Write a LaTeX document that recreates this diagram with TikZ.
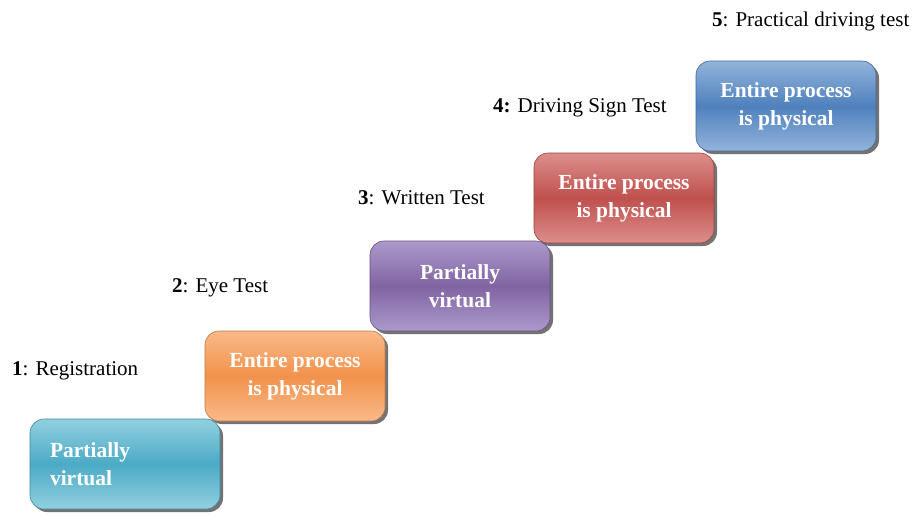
\documentclass[tikz,border=0pt]{standalone}
\usepackage{fontspec}
\setmainfont{Liberation Serif}
\usepackage{tikz}
\usetikzlibrary{shadows}

\definecolor{aquaA}{HTML}{92D0DF}
\definecolor{aquaB}{HTML}{4BAAC6}
\definecolor{orngA}{HTML}{FAB98A}
\definecolor{orngB}{HTML}{F1924B}
\definecolor{purpA}{HTML}{AC9ACB}
\definecolor{purpB}{HTML}{8064A2}
\definecolor{redA}{HTML}{DC8E8C}
\definecolor{redB}{HTML}{C0504D}
\definecolor{blueA}{HTML}{93B3DB}
\definecolor{blueB}{HTML}{4F81BD}

\begin{document}
\begin{tikzpicture}[x=1pt, y=-1pt,
  stepbox/.style n args={2}{rectangle, rounded corners=14pt, minimum width=180pt,
    minimum height=90pt, top color=#1, bottom color=#1, middle color=#2,
    draw=#2!80!black, line width=0.6pt, text=white, align=center,
    font=\fontsize{21.5}{28}\selectfont\bfseries,
    drop shadow={shadow xshift=3pt, shadow yshift=-3pt, fill=black, opacity=0.55}},
  steplabel/.style={anchor=base west, inner sep=0pt, font=\fontsize{21}{24}\selectfont}]

\useasboundingbox (0,0) rectangle (919,517);

% boxes
\node[stepbox={blueA}{blueB}] (s5) at (786,106) {Entire process\\is physical};
\node[stepbox={redA}{redB}] (s4) at (624,198) {Entire process\\is physical};
\node[stepbox={purpA}{purpB}] (s3) at (460,286) {Partially\\virtual};
\node[stepbox={orngA}{orngB}] (s2) at (295,376) {Entire process\\is physical};
\node[stepbox={aquaA}{aquaB}, minimum width=190pt, text width=150pt, align=left] (s1) at (125,464) {Partially\\virtual};

% labels
\node[steplabel] (l1) at (12,375) {\textbf{1}: Registration};
\node[steplabel] (l2) at (172,292) {\textbf{2}: Eye Test};
\node[steplabel] (l3) at (358,204) {\textbf{3}: Written Test};
\node[steplabel] (l4) at (493,112) {\textbf{4:} Driving Sign Test};
\node[steplabel] (l5) at (712,26) {\textbf{5}: Practical driving test};

\end{tikzpicture}
\end{document}
